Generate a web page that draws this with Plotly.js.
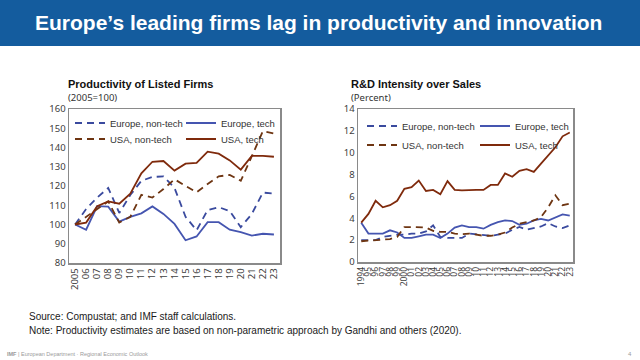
<!DOCTYPE html>
<html>
<head>
<meta charset="utf-8">
<script src="https://cdn.plot.ly/plotly-3.0.1.min.js"></script>
<style>html,body{margin:0;padding:0;background:#fff;}#chart{width:640px;height:360px;}</style>
</head>
<body>
<div id="chart"></div>
<script>
// ---- Left chart: Productivity of Listed Firms (2005=100)
const prodYears = [2005,2006,2007,2008,2009,2010,2011,2012,2013,2014,2015,2016,2017,2018,2019,2020,2021,2022,2023];
const prodTickLabels = ["2005","06","07","08","09","10","11","12","13","14","15","16","17","18","19","20","21","22","23"];
const prodEuropeNonTech = [100,108,114,119,106,115.3,122.7,124.7,125,119,104,97,107.5,109,107,98.6,105.5,116.6,116];
const prodEuropeTech    = [100,97.3,109.5,109.3,101.5,104,105.8,109.4,105.5,100.3,91.8,93.8,101.2,101.2,97.3,96,94.2,95.2,94.8];
const prodUSANonTech    = [100,104,108,112,101,104,115.4,114,118.4,123.5,120,116.7,121,125,125.8,122.7,135.5,148.5,147.3];
const prodUSATech       = [100,101,109.5,112,110.8,116,126.6,132.6,133,128,131.6,132,137.8,136.8,133.3,128.5,135.6,135.7,135.2];

// ---- Right chart: R&D Intensity over Sales (Percent)
const rdYears = [1994,1995,1996,1997,1998,1999,2000,2001,2002,2003,2004,2005,2006,2007,2008,2009,2010,2011,2012,2013,2014,2015,2016,2017,2018,2019,2020,2021,2022,2023];
const rdTickLabels = ["1994","95","96","97","98","99","2000","01","02","03","04","05","06","07","08","09","10","11","12","13","14","15","16","17","18","19","20","21","22","23"];
const rdEuropeNonTech = [2.0,2.0,2.0,2.3,2.4,2.5,2.5,2.6,2.6,2.8,3.35,2.3,2.2,2.2,2.2,2.6,2.55,2.45,2.4,2.5,2.6,2.95,3.2,2.95,3.1,3.25,3.55,3.25,3.1,3.35];
const rdEuropeTech    = [3.6,2.6,2.6,2.6,2.9,2.7,2.2,2.2,2.35,2.5,2.5,2.2,2.6,3.15,3.35,3.2,3.2,3.05,3.4,3.65,3.8,3.75,3.4,3.5,3.8,3.95,3.8,4.1,4.35,4.25];
const rdUSANonTech    = [1.9,1.95,2.0,2.0,2.1,2.3,3.2,3.2,3.2,3.15,2.85,2.75,2.75,2.6,2.55,2.6,2.5,2.4,2.4,2.5,2.7,3.15,3.5,3.65,3.8,4.1,5.0,6.1,5.2,5.35];
const rdUSATech       = [3.6,4.4,5.6,5.0,5.2,5.6,6.7,6.85,7.45,6.5,6.6,6.2,7.4,6.6,6.55,6.6,6.6,6.6,7.05,7.05,8.1,7.8,8.35,8.5,8.25,9.0,9.8,10.5,11.5,11.85];

const seriesNames = ["Europe, non-tech","Europe, tech","USA, non-tech","USA, tech"];

const BLUE_D = "#3a4a9e", BLUE = "#4555b0", BROWN_D = "#6e3512", BROWN = "#7f2a0c";
const DASH = "7px,5px";

function tr(x, y, name, color, dash, xa, ya, leg) {
  return {x: x, y: y, name: name, type: "scatter", mode: "lines",
          line: {color: color, width: 1.8, dash: dash},
          xaxis: xa, yaxis: ya, legend: leg, hoverinfo: "skip"};
}

const data = [
  tr(prodYears, prodEuropeNonTech, seriesNames[0], BLUE_D, DASH, "x", "y", "legend"),
  tr(prodYears, prodEuropeTech, seriesNames[1], BLUE, "solid", "x", "y", "legend"),
  tr(prodYears, prodUSANonTech, seriesNames[2], BROWN_D, DASH, "x", "y", "legend2"),
  tr(prodYears, prodUSATech, seriesNames[3], BROWN, "solid", "x", "y", "legend2"),
  tr(rdYears, rdEuropeNonTech, seriesNames[0], BLUE_D, DASH, "x2", "y2", "legend3"),
  tr(rdYears, rdEuropeTech, seriesNames[1], BLUE, "solid", "x2", "y2", "legend3"),
  tr(rdYears, rdUSANonTech, seriesNames[2], BROWN_D, DASH, "x2", "y2", "legend4"),
  tr(rdYears, rdUSATech, seriesNames[3], BROWN, "solid", "x2", "y2", "legend4")
];

const W = 640, H = 360;
const px = v => v / W, py = v => 1 - v / H;
const FONT = "Liberation Sans, Arial, sans-serif";
const LFONT = "Noto Sans, Open Sans, sans-serif";

function leg(x, y, ew) {
  return {x: px(x), y: py(y), xanchor: "left", yanchor: "middle", orientation: "h",
          entrywidth: ew, entrywidthmode: "pixels", bgcolor: "rgba(0,0,0,0)",
          font: {family: FONT, size: 9.5, color: "#333"}, itemwidth: 30, tracegroupgap: 0};
}

const axisCommon = {showgrid: false, zeroline: false, showline: true, mirror: true,
  linecolor: "#8a8a8a", linewidth: 1.5, ticks: "", fixedrange: true};

const layout = {
  width: W, height: H,
  margin: {l: 0, r: 0, t: 0, b: 0},
  paper_bgcolor: "#ffffff", plot_bgcolor: "#ffffff",
  showlegend: true,
  legend: leg(70, 123, 66),
  legend2: leg(70, 139, 66),
  legend3: leg(362, 126, 68),
  legend4: leg(362, 145, 68),
  xaxis: Object.assign({}, axisCommon, {domain: [px(69), px(280)], anchor: "y",
    range: [2004.45, 2023.55], tickmode: "array", tickvals: prodYears, ticktext: prodTickLabels,
    tickangle: -90, tickfont: {family: LFONT, size: 9.5, color: "#404040"}}),
  yaxis: Object.assign({}, axisCommon, {domain: [1 - 263/H, 1 - 109/H], anchor: "x",
    range: [80, 160], dtick: 10, tickfont: {family: LFONT, size: 9.5, color: "#404040"}}),
  xaxis2: Object.assign({}, axisCommon, {domain: [px(358), px(573)], anchor: "y2",
    range: [1993.55, 2023.45], tickmode: "array", tickvals: rdYears, ticktext: rdTickLabels,
    tickangle: -90, tickfont: {family: LFONT, size: 8.5, color: "#404040"}}),
  yaxis2: Object.assign({}, axisCommon, {domain: [1 - 262/H, 1 - 109/H], anchor: "x2",
    range: [0, 14], dtick: 2, tickfont: {family: LFONT, size: 9.5, color: "#404040"}}),
  shapes: [
    {type: "rect", xref: "paper", yref: "paper", x0: 0, x1: 1, y0: py(46), y1: 1,
     fillcolor: "#145c9e", line: {width: 0}, layer: "below"}
  ],
  annotations: [
    {text: "<b>Europe’s leading firms lag in productivity and innovation</b>", xref: "paper", yref: "paper",
     x: px(318), y: py(22), xanchor: "center", yanchor: "middle", showarrow: false,
     font: {family: FONT, size: 21, color: "#ffffff"}},
    {text: "<b>Productivity of Listed Firms</b>", xref: "paper", yref: "paper",
     x: px(66), y: py(84), xanchor: "left", yanchor: "middle", showarrow: false,
     font: {family: FONT, size: 11, color: "#111"}},
    {text: "(2005=100)", xref: "paper", yref: "paper",
     x: px(66), y: py(98), xanchor: "left", yanchor: "middle", showarrow: false,
     font: {family: LFONT, size: 9.5, color: "#333"}},
    {text: "<b>R&D Intensity over Sales</b>", xref: "paper", yref: "paper",
     x: px(349), y: py(84), xanchor: "left", yanchor: "middle", showarrow: false,
     font: {family: FONT, size: 11, color: "#111"}},
    {text: "(Percent)", xref: "paper", yref: "paper",
     x: px(349), y: py(98), xanchor: "left", yanchor: "middle", showarrow: false,
     font: {family: LFONT, size: 9.5, color: "#333"}},
    {text: "Source: Compustat; and IMF staff calculations.", xref: "paper", yref: "paper",
     x: px(27), y: py(316), xanchor: "left", yanchor: "middle", showarrow: false,
     font: {family: FONT, size: 10, color: "#1a1a1a"}},
    {text: "Note: Productivity estimates are based on non-parametric approach by Gandhi and others (2020).", xref: "paper", yref: "paper",
     x: px(27), y: py(330), xanchor: "left", yanchor: "middle", showarrow: false,
     font: {family: FONT, size: 10, color: "#1a1a1a"}},
    {text: "<b>IMF</b> | European Department · Regional Economic Outlook", xref: "paper", yref: "paper",
     x: px(5), y: py(354), xanchor: "left", yanchor: "middle", showarrow: false,
     font: {family: FONT, size: 5.5, color: "#9a9a9a"}},
    {text: "4", xref: "paper", yref: "paper",
     x: px(634), y: py(354), xanchor: "right", yanchor: "middle", showarrow: false,
     font: {family: FONT, size: 6, color: "#9a9a9a"}}
  ]
};

Plotly.newPlot("chart", data, layout, {staticPlot: true, displayModeBar: false});
</script>
</body>
</html>
